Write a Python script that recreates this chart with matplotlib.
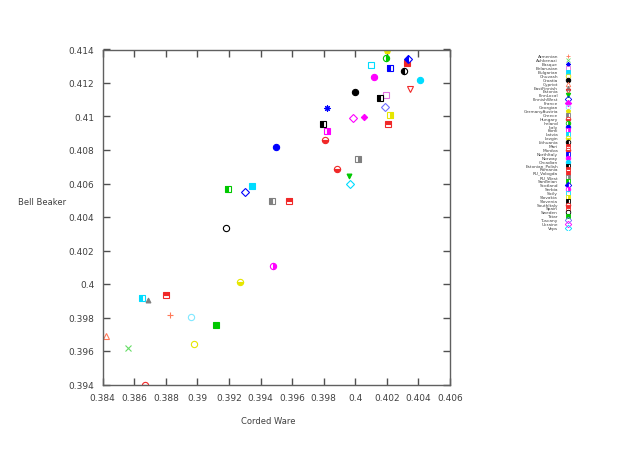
import matplotlib
matplotlib.use("Agg")
import matplotlib.pyplot as plt
from matplotlib.ticker import MultipleLocator, FuncFormatter

# populations, in legend order
labels = ["Armenian", "Ashkenazi", "Basque", "Belarusian", "Bulgarian", "Chuvash",
          "Croatia", "Cypriot", "EastFinnish", "Estonia", "FinnLocal", "FinnishWest",
          "France", "Georgian", "GermanyAustria", "Greece", "Hungary", "Ireland",
          "Italy", "Komi", "Latvia", "Lezgin", "Lithuania", "Mari", "Mordva",
          "NorthItaly", "Norway", "Orcadian", "Estonian_Polish", "Romania",
          "RU_Vologda", "RU_West", "Sardinian", "Scotland", "Serbia", "Sicily",
          "Slovakia", "Slovenia", "SouthItaly", "Spain", "Sweden", "Tatar",
          "Tuscany", "Ukraine", "Veps"]

corded = [0.38828, 0.38560, 0.39818, 0.40197, 0.39347, 0.38978, 0.39997, 0.38420,
          0.38689, 0.40345, 0.39959, 0.39299, 0.40056, 0.38961, 0.40204, 0.39470,
          0.39887, 0.40197, 0.39499, 0.39818, 0.38650, 0.39269, 0.40309, 0.38800,
          0.39807, 0.40218, 0.40119, 0.40408, 0.39796, 0.39579, 0.40326, 0.40016,
          0.39191, 0.40337, 0.39480, 0.40098, 0.40218, 0.40155, 0.38670, 0.40206,
          0.39178, 0.39119, 0.40189, 0.39986, 0.39967]

beaker = [0.39813, 0.39616, 0.41051, 0.41130, 0.40587, 0.39644, 0.41148, 0.39690,
          0.39906, 0.41166, 0.40643, 0.40549, 0.40999, 0.39803, 0.41389, 0.40497,
          0.40687, 0.41349, 0.40818, 0.40915, 0.39915, 0.40014, 0.41270, 0.39934,
          0.40858, 0.41290, 0.41238, 0.41220, 0.40957, 0.40497, 0.41319, 0.40746,
          0.40567, 0.41341, 0.40106, 0.41309, 0.41009, 0.41110, 0.39400, 0.40957,
          0.40336, 0.39753, 0.41059, 0.40991, 0.40597]

# styles
R, G, B, M, C, Y, K, O, GR = ("#f02828", "#00c800", "#0000ff", "#ff00ff", "#00dcff",
                              "#e6e600", "#000000", "#ff7a5a", "#808080")
colors = [O, "#66dd66", B, "#e070e0", C, Y, K, O, GR, R, G, B, M, "#80e8ff", Y,
          GR, R, G, B, M, C, Y, K, R, R, B, M, C, K, R, R, GR, G, B, M, C, Y, K,
          R, R, K, G, "#7070ff", M, C]
markers = ["+", "x", (8, 2, 0), "s", "s", "o", "o", "^", "^", "v", "v", "D", "D", "o", "p",
           "s", "o", "o", "o", "s", "s", "o", "o", "s", "o", "s", "o", "o", "s", "s",
           "s", "s", "s", "D", "o", "s", "s", "s", "o", "s", "o", "s", "D", "D", "D"]
fills = ["full", "full", "full", "none", "full", "none", "full", "none", "full", "none",
         "full", "none", "full", "none", "full",
         "left", "bottom", "right", "full", "right", "left", "bottom", "left", "top",
         "bottom", "left", "full", "full", "left", "top", "full", "right", "left",
         "left", "right", "none", "right", "left", "bottom", "top", "none", "full",
         "none", "none", "none"]
sizes = [4.5, 4, 4.5, 4.5, 4, 4.5, 4.5, 4.5, 3.5, 4.5, 3.5, 4.5, 3.2, 4.5, 4] + [4.5] * 30

fig = plt.figure(figsize=(6.4, 4.52), dpi=100)
ax = fig.add_axes([102.7 / 640, 66.5 / 452, 347.3 / 640, 335 / 452])

for xv, yv, c, m, f, s in zip(corded, beaker, colors, markers, fills, sizes):
    if f == "none":
        ax.plot(xv, yv, linestyle="none", marker=m, markersize=s, markerfacecolor="none",
                markeredgecolor=c, markeredgewidth=0.8)
    else:
        ax.plot(xv, yv, linestyle="none", marker=m, markersize=s, color=c, fillstyle=f,
                markerfacecoloralt="white", markeredgecolor=c, markeredgewidth=0.8)

ax.set_xlim(0.384, 0.406)
ax.set_ylim(0.394, 0.414)
ax.xaxis.set_major_locator(MultipleLocator(0.002))
ax.yaxis.set_major_locator(MultipleLocator(0.002))
fmt = FuncFormatter(lambda v, p: f"{round(v, 3):g}")
ax.xaxis.set_major_formatter(fmt)
ax.yaxis.set_major_formatter(fmt)
ax.tick_params(direction="in", length=5, width=1, color="#505050", labelsize=6.5,
               labelcolor="#404040", top=True, right=True, pad=6)
for sp in ax.spines.values():
    sp.set_color("#606060")
    sp.set_linewidth(1)

fig.text(268 / 640, 1 - 422 / 452, "Corded Ware", ha="center", va="center",
         fontsize=6, color="#404040")
fig.text(42 / 640, 1 - 203 / 452, "Bell Beaker", ha="center", va="center",
         fontsize=6, color="#404040")

# legend column (text right of the plot, marker to its right)
lax = fig.add_axes([548 / 640, 1 - 231 / 452, 30 / 640, 176 / 452])
lax.set_xlim(548, 578)
lax.set_ylim(44.51, -0.59)
lax.axis("off")
for i, (lab, c, m, f) in enumerate(zip(labels, colors, markers, fills)):
    lax.text(558, i, lab, ha="right", va="center", fontsize=3.1, color="#404040")
    if f == "none":
        lax.plot(568, i, linestyle="none", marker=m, markersize=3.3, markerfacecolor="none",
                 markeredgecolor=c, markeredgewidth=0.6)
    else:
        lax.plot(568, i, linestyle="none", marker=m, markersize=3.3, color=c, fillstyle=f,
                 markerfacecoloralt="white", markeredgecolor=c, markeredgewidth=0.6)

fig.savefig("out.png", dpi=100)
